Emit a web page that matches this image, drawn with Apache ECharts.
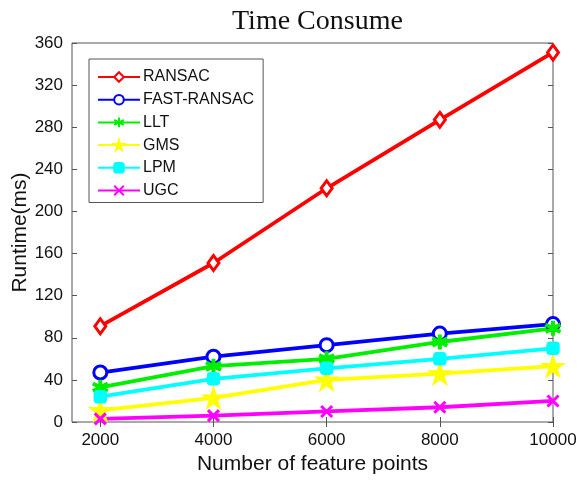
<!DOCTYPE html>
<html>
<head>
<meta charset="utf-8">
<title>Time Consume</title>
<script src="https://cdn.jsdelivr.net/npm/echarts@6/dist/echarts.min.js"></script>
<style>
  html, body { margin: 0; padding: 0; background: #fff; }
  #main { width: 579px; height: 481px; }
</style>
</head>
<body>
<div id="main"></div>
<script>
// feature point counts
const points = [2000, 4000, 6000, 8000, 10000]
// runtime in ms for each method
const ransac = [91, 151, 222, 287, 351]
const fastRansac = [47, 62, 73, 84, 93]
const llt = [33, 53, 60, 76, 89]
const gms = [11, 23, 40, 46, 53]
const lpm = [24, 41, 51, 60, 70]
const ugc = [3, 6, 10, 14, 20]
const yTicks = [0, 40, 80, 120, 160, 200, 240, 280, 320, 360]

const chart = echarts.init(document.getElementById('main'), null, { renderer: 'canvas' })

const font = 'Liberation Sans, Arial, sans-serif'
const starPath = 'path://M50,0L61,35L98,35L68,57L79,91L50,70L21,91L32,57L2,35L39,35Z'
const crossPath = 'path://M0,0L10,10M10,0L0,10'
const asteriskPath = 'path://M5,0L5,10M0.7,2.5L9.3,7.5M0.7,7.5L9.3,2.5'

function pairs(arr) {
  let out = []
  for (let i = 0; i < points.length; i++) {
    out.push([points[i], arr[i]])
  }
  return out
}

function makeSeries(name, arr, color, symbol, size, extra) {
  let s = {
    name: name,
    type: 'line',
    data: pairs(arr),
    symbol: symbol,
    symbolSize: size,
    showAllSymbol: true,
    lineStyle: { color: color, width: 3.8 },
    itemStyle: { color: color, borderColor: color, borderWidth: 2.5 },
    emphasis: { disabled: true },
    animation: false
  }
  return Object.assign(s, extra || {})
}

const series = [
  makeSeries('RANSAC', ransac, '#ff0000', 'diamond', [11, 15], { itemStyle: { color: '#fff', borderColor: '#ff0000', borderWidth: 3 } }),
  makeSeries('FAST-RANSAC', fastRansac, '#0000ff', 'circle', 13, { itemStyle: { color: '#fff', borderColor: '#0000ff', borderWidth: 3 } }),
  makeSeries('LLT', llt, '#00ee00', asteriskPath, 15, { itemStyle: { color: '#00ee00', borderColor: '#00ee00', borderWidth: 4 } }),
  makeSeries('GMS', gms, '#ffff00', starPath, 18),
  makeSeries('LPM', lpm, '#00ffff', 'roundRect', 11),
  makeSeries('UGC', ugc, '#ff00ff', crossPath, 11, { itemStyle: { color: '#ff00ff', borderColor: '#ff00ff', borderWidth: 3 } })
]

const option = {
  backgroundColor: '#ffffff',
  animation: false,
  title: {
    text: 'Time Consume',
    left: 227,
    top: 3,
    textStyle: { fontFamily: 'Liberation Serif, Times New Roman, serif', fontWeight: 'normal', fontSize: 28, color: '#111' }
  },
  legend: {
    orient: 'vertical',
    left: 89,
    top: 59,
    padding: [10, 9, 4, 8],
    itemWidth: 42,
    itemHeight: 12,
    itemGap: 6.7,
    borderColor: '#555',
    borderWidth: 1,
    backgroundColor: '#fff',
    textStyle: { fontFamily: font, fontSize: 16, color: '#111', padding: [0, 0, 0, -2] },
    data: ['RANSAC', 'FAST-RANSAC', 'LLT', 'GMS', 'LPM', 'UGC']
  },
  grid: {
    left: 72,
    right: 26,
    top: 43,
    bottom: 59,
    outerBoundsMode: 'none',
    show: true,
    borderColor: '#555',
    borderWidth: 1
  },
  xAxis: [{
    type: 'value',
    min: 1500,
    max: 10000,
    name: 'Number of feature points',
    nameLocation: 'middle',
    nameGap: 30,
    nameTextStyle: { fontFamily: font, fontSize: 21, color: '#111' },
    axisLine: { show: false },
    axisTick: { show: true, inside: true, length: 5, lineStyle: { color: '#555' }, customValues: points },
    axisLabel: {
      fontFamily: font, fontSize: 17, color: '#111', margin: 10, customValues: points,
      formatter: function (v) { return String(v) }
    },
    splitLine: { show: false }
  }, {
    type: 'value',
    position: 'top',
    min: 1500,
    max: 10000,
    axisLine: { show: false },
    axisTick: { show: true, inside: true, length: 5, lineStyle: { color: '#555' }, customValues: points },
    axisLabel: { show: false },
    splitLine: { show: false }
  }],
  yAxis: [{
    type: 'value',
    min: 0,
    max: 360,
    interval: 40,
    name: 'Runtime(ms)',
    nameLocation: 'middle',
    nameGap: 41,
    nameMoveOverlap: false,
    nameTextStyle: { fontFamily: font, fontSize: 21, color: '#111' },
    axisLine: { show: false },
    axisTick: { show: true, inside: true, length: 5, lineStyle: { color: '#555' }, customValues: yTicks },
    axisLabel: { fontFamily: font, fontSize: 17, color: '#111', margin: 9, customValues: yTicks },
    splitLine: { show: false }
  }, {
    type: 'value',
    position: 'right',
    min: 0,
    max: 360,
    interval: 40,
    axisLine: { show: false },
    axisTick: { show: true, inside: true, length: 5, lineStyle: { color: '#555' } },
    axisLabel: { show: false },
    splitLine: { show: false }
  }],
  series: series
}

chart.setOption(option)
</script>
</body>
</html>
